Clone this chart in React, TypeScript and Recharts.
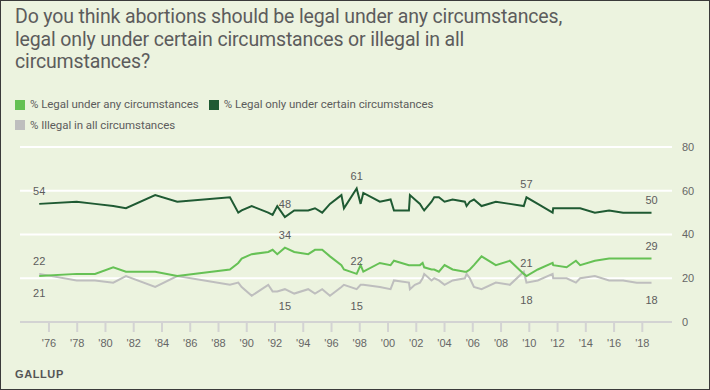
import { LineChart, Line, XAxis, YAxis, CartesianGrid, LabelList } from "recharts";

// Gallup abortion trend, poll dates as decimal years
const YEARS = [
  1975.31, 1977.96, 1979.26, 1980.55, 1981.45, 1983.52, 1985.08, 1988.81, 1989.4, 1989.64,
  1990.35, 1991.52, 1991.83, 1992.16, 1992.7, 1993.36, 1994.35, 1994.83, 1995.34, 1995.89,
  1996.7, 1996.88, 1997.78, 1998.06, 1998.25, 1999.42, 2000.18, 2000.42, 2001.48, 2001.55,
  2001.9, 2002.26, 2002.45, 2002.56, 2003.08, 2003.27, 2003.6, 2004.0, 2004.57, 2005.44,
  2005.56, 2005.79, 2006.08, 2006.62, 2007.63, 2008.62, 2009.61, 2009.8, 2010.6, 2011.65,
  2011.69, 2012.64, 2013.3, 2013.6, 2014.64, 2015.65, 2016.64, 2017.6, 2018.65,
];
const LEGAL_ANY = [
  21, 22, 22, 25, 23, 23, 21, 24, 27, 29,
  31, 32, 33, 31, 34, 32, 31, 33, 33, 30,
  26, 24, 22, 26, 23, 27, 26, 28, 26, 26,
  26, 26, 27, 25, 24, 24, 23, 26, 24, 23,
  23, 24, 26, 30, 26, 28, 22, 21, 24, 27,
  26, 25, 28, 26, 28, 29, 29, 29, 29,
];
const LEGAL_CERTAIN = [
  54, 55, 54, 53, 52, 58, 55, 57, 50, 51,
  53, 50, 49, 53, 48, 51, 51, 52, 50, 54,
  58, 52, 61, 54, 59, 55, 56, 51, 51, 58,
  56, 54, 52, 51, 55, 57, 57, 55, 56, 55,
  53, 55, 56, 53, 55, 54, 53, 57, 54, 50,
  52, 52, 52, 52, 50, 51, 50, 50, 50,
];
const ILLEGAL = [
  22, 19, 19, 18, 21, 16, 21, 17, 18, 16,
  12, 17, 14, 14, 15, 13, 15, 13, 15, 12,
  16, 17, 15, 17, 17, 16, 15, 19, 18, 15,
  17, 18, 20, 22, 19, 20, 19, 17, 19, 20,
  22, 20, 16, 15, 18, 17, 23, 18, 19, 22,
  20, 20, 18, 20, 21, 19, 19, 18, 18,
];

const X_TICKS = [
  1976, 1978, 1980, 1982, 1984, 1986, 1988, 1990, 1992, 1994, 1996,
  1998, 2000, 2002, 2004, 2006, 2008, 2010, 2012, 2014, 2016, 2018,
];
const Y_TICKS = [0, 20, 40, 60, 80];
// polls that carry a value label
const LABELLED_YEARS = [1975.31, 1992.7, 1997.78, 2009.8, 2018.65];

const TITLE_LINES = [
  "Do you think abortions should be legal under any circumstances,",
  "legal only under certain circumstances or illegal in all",
  "circumstances?",
];

const COLORS = {
  any: "#66C155",
  certain: "#1F5A33",
  illegal: "#BEBEBE",
  bg: "#ECF3DF",
  text: "#5C5C5C",
};

const NARROW = "Roboto, sans-serif";
const SANS = '"Liberation Sans", Arial, sans-serif';

const data = YEARS.map((year, i) => ({
  year,
  any: LEGAL_ANY[i],
  certain: LEGAL_CERTAIN[i],
  illegal: ILLEGAL[i],
}));

// label above or below the point; the first gray/green pair swaps sides
function valueLabel(series: "any" | "certain" | "illegal") {
  return (props: any) => {
    const { x, y, value, index } = props;
    if (!LABELLED_YEARS.includes(YEARS[index])) return null;
    let below = series === "illegal";
    if (index === 0 && series !== "certain") below = !below;
    return (
      <text
        x={x}
        y={below ? y + 21 : y - 9}
        textAnchor="middle"
        fontSize={11}
        fontFamily={SANS}
        fill={COLORS.text}
      >
        {value}
      </text>
    );
  };
}

function LegendItem({ color, label }: { color: string; label: string }) {
  return (
    <span style={{ display: "inline-flex", alignItems: "center", marginRight: 10 }}>
      <span style={{ width: 10, height: 10, background: color, marginRight: 5 }} />
      <span>{label}</span>
    </span>
  );
}

export default function App() {
  return (
    <div
      style={{
        position: "absolute",
        left: 0,
        top: 0,
        width: 710,
        height: 390,
        boxSizing: "border-box",
        border: "1px solid #3a3a3a",
        background: COLORS.bg,
        overflow: "hidden",
      }}
    >
      <div
        style={{
          position: "absolute",
          left: 14,
          top: 5,
          fontFamily: NARROW,
          fontSize: 19.5,
          letterSpacing: -0.15,
          lineHeight: "22.5px",
          color: COLORS.text,
          whiteSpace: "nowrap",
        }}
      >
        {TITLE_LINES.map((line) => (
          <div key={line}>{line}</div>
        ))}
      </div>
      <div
        style={{
          position: "absolute",
          left: 14,
          top: 94,
          fontFamily: NARROW,
          fontSize: 11.5,
          letterSpacing: -0.05,
          lineHeight: "19px",
          color: COLORS.text,
          whiteSpace: "nowrap",
        }}
      >
        <div>
          <LegendItem color={COLORS.any} label="% Legal under any circumstances" />
          <LegendItem color={COLORS.certain} label="% Legal only under certain circumstances" />
        </div>
        <div>
          <LegendItem color={COLORS.illegal} label="% Illegal in all circumstances" />
        </div>
      </div>
      <div
        style={{
          position: "absolute",
          left: 14,
          top: 367,
          fontFamily: SANS,
          fontSize: 11,
          fontWeight: "bold",
          letterSpacing: 0.6,
          color: "#555",
        }}
      >
        GALLUP
      </div>
      <div style={{ position: "absolute", left: -1, top: -1 }}>
        <LineChart
          width={710}
          height={390}
          data={data}
          margin={{ top: 147, right: 0, bottom: 38, left: 20 }}
        >
          <CartesianGrid vertical={false} stroke="#FFFFFF" strokeWidth={2} />
          <XAxis
            dataKey="year"
            type="number"
            domain={[1973.95, 2020.1]}
            ticks={X_TICKS}
            tickFormatter={(v) => "'" + String(v).slice(2)}
            allowDataOverflow
            height={30}
            axisLine={{ stroke: "#D3D3D3", strokeWidth: 2 }}
            tickLine={{ stroke: "#D3D3D3", strokeWidth: 2 }}
            tickSize={10}
            tickMargin={7}
            tick={{ fill: "#666", fontSize: 11, fontFamily: SANS }}
          />
          <YAxis
            orientation="right"
            domain={[0, 80]}
            ticks={Y_TICKS}
            width={38}
            axisLine={false}
            tickLine={false}
            tickSize={0}
            tickMargin={10}
            tick={{ fill: "#666", fontSize: 11, fontFamily: SANS, textAnchor: "start" }}
          />
          <Line
            dataKey="illegal"
            type="linear"
            stroke={COLORS.illegal}
            strokeWidth={2}
            dot={false}
            isAnimationActive={false}
          >
            <LabelList dataKey="illegal" content={valueLabel("illegal")} />
          </Line>
          <Line
            dataKey="any"
            type="linear"
            stroke={COLORS.any}
            strokeWidth={2}
            dot={false}
            isAnimationActive={false}
          >
            <LabelList dataKey="any" content={valueLabel("any")} />
          </Line>
          <Line
            dataKey="certain"
            type="linear"
            stroke={COLORS.certain}
            strokeWidth={2}
            dot={false}
            isAnimationActive={false}
          >
            <LabelList dataKey="certain" content={valueLabel("certain")} />
          </Line>
        </LineChart>
      </div>
    </div>
  );
}
